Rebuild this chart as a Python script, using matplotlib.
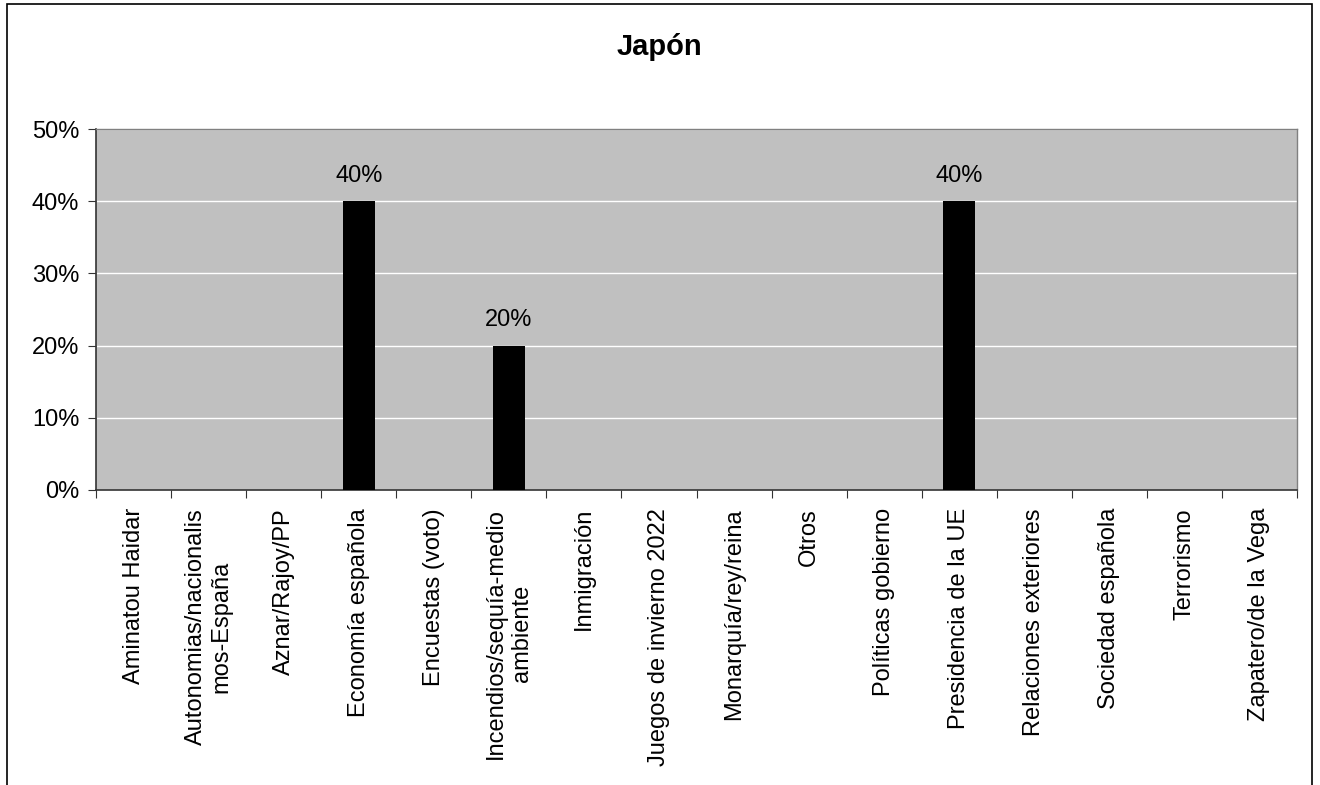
import matplotlib
matplotlib.use("Agg")
import matplotlib.pyplot as plt
from matplotlib.ticker import FixedLocator, PercentFormatter
from matplotlib.patches import Rectangle

plt.rcParams['font.family'] = ['Liberation Sans', 'DejaVu Sans']

title = "Japón"
categories = [
    "Aminatou Haidar",
    "Autonomias/nacionalis\nmos-España",
    "Aznar/Rajoy/PP",
    "Economía española",
    "Encuestas (voto)",
    "Incendios/sequía-medio\nambiente",
    "Inmigración",
    "Juegos de invierno 2022",
    "Monarquía/rey/reina",
    "Otros",
    "Políticas gobierno",
    "Presidencia de la UE",
    "Relaciones exteriores",
    "Sociedad española",
    "Terrorismo",
    "Zapatero/de la Vega",
]
values = [0, 0, 0, 40, 0, 20, 0, 0, 0, 0, 0, 40, 0, 0, 0, 0]
yticks = [0, 10, 20, 30, 40, 50]

W, H = 1320, 785
fig = plt.figure(figsize=(W / 100, H / 100), dpi=100)
fig.patch.set_facecolor("white")

# outer border
fig.patches.append(Rectangle((7 / W, -0.05), (1312 - 7) / W, 1.05 - 4 / H,
                             transform=fig.transFigure, fill=False,
                             edgecolor="black", linewidth=1.2))

left, right, top, bottom = 96, 1297, 129, 490
ax = fig.add_axes([left / W, 1 - bottom / H, (right - left) / W, (bottom - top) / H])
ax.set_facecolor("#C0C0C0")

fs = 17
x = list(range(len(categories)))
ax.bar(x, values, width=0.43, color="black", zorder=3)
for xi, v in zip(x, values):
    if v > 0:
        ax.text(xi, v + 2.0, f"{v}%", ha="center", va="bottom", fontsize=fs, zorder=4)

ax.set_xlim(-0.5, len(categories) - 0.5)
ax.set_ylim(0, 50)
ax.yaxis.set_major_locator(FixedLocator(yticks))
ax.yaxis.set_major_formatter(PercentFormatter(decimals=0))
ax.grid(axis="y", color="white", linewidth=1, zorder=1)
ax.set_axisbelow(True)

ax.set_xticks([i - 0.5 for i in range(len(categories) + 1)])
ax.set_xticklabels([])
ax.set_xticks(x, minor=True)
ax.set_xticklabels(categories, minor=True, rotation=90, fontsize=fs,
                   va="top", ha="center", multialignment="center",
                   linespacing=1.22)
ax.tick_params(axis="x", which="minor", length=0, pad=13)
ax.tick_params(axis="x", which="major", length=6, direction="out", color="#333333")
ax.tick_params(axis="y", length=6, direction="out", labelsize=fs, pad=6, color="#333333")

for s in ["left", "bottom"]:
    ax.spines[s].set_color("#333333")
    ax.spines[s].set_linewidth(1.2)
for s in ["top", "right"]:
    ax.spines[s].set_color("#808080")
    ax.spines[s].set_linewidth(1)

fig.text(0.5 * (7 + 1312) / W, 1 - 47 / H, title, ha="center", va="center",
         fontsize=21, fontweight="bold")

fig.savefig("out.png", dpi=100)
